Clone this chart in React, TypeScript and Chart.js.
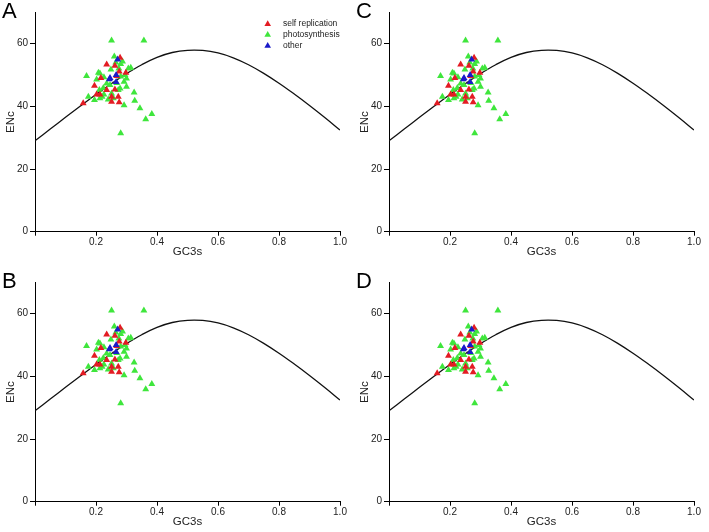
import React, { useEffect, useRef } from 'react';
import { Chart, registerables } from 'chart.js';

Chart.register(...registerables);

// ---- data ----
const panelLabels = ['A', 'B', 'C', 'D'];
const seriesNames = ['self replication', 'photosynthesis', 'other'];
const seriesColors = ['#e31b23', '#3fe63c', '#1a1ac8'];

const selfReplicationX = [0.158, 0.195, 0.235, 0.235, 0.202, 0.213, 0.251, 0.251, 0.262, 0.273, 0.276, 0.262, 0.279, 0.268, 0.276, 0.298, 0.216];
const selfReplicationY = [41.0, 46.6, 53.4, 45.2, 43.8, 43.8, 41.5, 43.1, 45.4, 43.1, 41.3, 53.0, 55.5, 49.7, 51.1, 50.7, 49.1];

const photosynthesisX = [0.251, 0.357, 0.169, 0.175, 0.195, 0.202, 0.208, 0.213, 0.211, 0.213, 0.220, 0.226, 0.226, 0.235, 0.246, 0.249, 0.251, 0.257, 0.260, 0.265, 0.275, 0.281, 0.287, 0.281, 0.292, 0.300, 0.300, 0.306, 0.314, 0.279, 0.292, 0.325, 0.327, 0.344, 0.363, 0.383, 0.281, 0.268, 0.240, 0.224, 0.295, 0.273];
const photosynthesisY = [61.0, 61.0, 49.7, 43.1, 42.0, 48.6, 50.7, 50.5, 45.2, 42.6, 43.1, 43.8, 49.3, 47.3, 46.8, 51.8, 44.1, 42.6, 55.9, 54.0, 52.1, 53.5, 54.3, 49.5, 47.9, 48.9, 46.3, 52.1, 52.3, 45.7, 40.4, 44.4, 41.8, 39.4, 35.9, 37.6, 31.4, 47.5, 42.2, 45.9, 50.0, 45.2];

const otherX = [0.246, 0.271, 0.266, 0.266, 0.244];
const otherY = [49.1, 55.0, 50.0, 47.8, 48.7];

const curveX = [0, 0.05, 0.1, 0.15, 0.2, 0.25, 0.3, 0.35, 0.4, 0.45, 0.5, 0.55, 0.6, 0.65, 0.7, 0.75, 0.8, 0.85, 0.9, 0.95, 1.0];
const curveY = [29.0, 32.75, 36.5, 40.2, 43.8, 47.25, 50.45, 53.3, 55.65, 57.2, 57.9, 57.85, 57.05, 55.5, 53.3, 50.55, 47.4, 43.95, 40.3, 36.45, 32.45];

const xTicks = [0, 0.2, 0.4, 0.6, 0.8, 1.0];
const yTicks = [0, 20, 40, 60];

const FONT = 'Arial, "Liberation Sans", sans-serif';

function pts(xs: number[], ys: number[]) {
  const n = Math.min(xs.length, ys.length);
  const out: { x: number; y: number }[] = [];
  for (let i = 0; i < n; i++) out.push({ x: xs[i], y: ys[i] });
  return out;
}

const PANEL_W = 354;
const PANEL_H = 262;

function Panel({ label, left, top, showLegend }: { label: string; left: number; top: number; showLegend: boolean }) {
  const ref = useRef<HTMLCanvasElement | null>(null);

  useEffect(() => {
    if (!ref.current) return;
    const legendPlugin = {
      id: 'cornerLegend',
      afterDraw(chart: any) {
        if (!showLegend) return;
        const { ctx, chartArea } = chart;
        ctx.save();
        seriesNames.forEach((t, i) => {
          const y = chartArea.top + 11.6 + i * 10.9;
          const x = chartArea.right - 72.3;
          const r = 3.8;
          ctx.fillStyle = seriesColors[i];
          ctx.beginPath();
          ctx.moveTo(x, y - r);
          ctx.lineTo(x + r * 0.866, y + r * 0.5);
          ctx.lineTo(x - r * 0.866, y + r * 0.5);
          ctx.closePath();
          ctx.fill();
          ctx.fillStyle = '#222';
          ctx.font = '8.5px ' + FONT;
          ctx.textBaseline = 'middle';
          ctx.textAlign = 'left';
          ctx.fillText(t, chartArea.right - 57, y);
        });
        ctx.restore();
      },
    };

    const tri = (name: string, color: string, data: any[], order: number) => ({
      label: name,
      data,
      backgroundColor: color,
      borderColor: color,
      pointStyle: 'triangle',
      pointRadius: 4,
      pointBorderWidth: 0,
      showLine: false,
      order,
    });

    const chart = new Chart(ref.current, {
      type: 'scatter',
      data: {
        datasets: [
          tri(seriesNames[0], seriesColors[0], pts(selfReplicationX, selfReplicationY), 1),
          tri(seriesNames[1], seriesColors[1], pts(photosynthesisX, photosynthesisY), 2),
          tri(seriesNames[2], seriesColors[2], pts(otherX, otherY), 0),
          {
            label: 'expected',
            data: pts(curveX, curveY),
            showLine: true,
            pointRadius: 0,
            borderColor: '#111',
            borderWidth: 1.3,
            tension: 0.4,
            fill: false,
            order: 3,
          } as any,
        ],
      },
      options: {
        responsive: false,
        devicePixelRatio: 1,
        animation: false,
        events: [],
        layout: { padding: { left: 0, right: 14, top: 12.4, bottom: 0 } },
        plugins: {
          legend: { display: false },
          tooltip: { enabled: false },
        },
        scales: {
          x: {
            type: 'linear',
            min: 0,
            max: 1,
            afterBuildTicks: (s: any) => {
              s.ticks = xTicks.map((v) => ({ value: v }));
            },
            afterFit: (s: any) => {
              s.height = PANEL_H - 231.7;
            },
            grid: { display: true, drawOnChartArea: false, drawTicks: true, tickLength: 4, color: '#000', lineWidth: 1 },
            border: { display: true, color: '#000', width: 1 },
            ticks: {
              padding: 1,
              color: '#222',
              font: { family: FONT, size: 10 },
              maxRotation: 0,
              autoSkip: false,
              callback: (v: any) => (Number(v) === 0 ? '' : Number(v).toFixed(1)),
            },
            title: {
              display: true,
              text: 'GC3s',
              color: '#222',
              font: { family: FONT, size: 11.5 },
              padding: { top: 0, bottom: 3.2 },
            },
          },
          y: {
            type: 'linear',
            min: 0,
            max: 70,
            afterBuildTicks: (s: any) => {
              s.ticks = yTicks.map((v) => ({ value: v }));
            },
            afterFit: (s: any) => {
              s.width = 35;
            },
            grid: { display: true, drawOnChartArea: false, drawTicks: true, tickLength: 5, color: '#000', lineWidth: 1 },
            border: { display: true, color: '#000', width: 1 },
            ticks: {
              padding: 2,
              color: '#222',
              font: { family: FONT, size: 10 },
              autoSkip: false,
              callback: (v: any) => String(v),
            },
            title: {
              display: true,
              text: 'ENc',
              color: '#222',
              font: { family: FONT, size: 11.5 },
              padding: { top: 3.6, bottom: 0 },
            },
          },
        },
      },
      plugins: [legendPlugin],
    } as any);
    return () => chart.destroy();
  }, [showLegend]);

  return (
    <div style={{ position: 'absolute', left, top, width: PANEL_W, height: PANEL_H }}>
      <canvas ref={ref} width={PANEL_W} height={PANEL_H} style={{ width: PANEL_W, height: PANEL_H, display: 'block' }} />
      <div
        style={{
          position: 'absolute',
          left: 2,
          top: 0,
          fontFamily: FONT,
          fontSize: 22,
          lineHeight: '22px',
          color: '#000',
        }}
      >
        {label}
      </div>
    </div>
  );
}

export default function App() {
  return (
    <div style={{ position: 'absolute', left: 0, top: 0, width: 709, height: 532, overflow: 'hidden', background: '#fff' }}>
      <Panel label={panelLabels[0]} left={0} top={0} showLegend={true} />
      <Panel label={panelLabels[1]} left={0} top={270} showLegend={false} />
      <Panel label={panelLabels[2]} left={354} top={0} showLegend={false} />
      <Panel label={panelLabels[3]} left={354} top={270} showLegend={false} />
    </div>
  );
}
